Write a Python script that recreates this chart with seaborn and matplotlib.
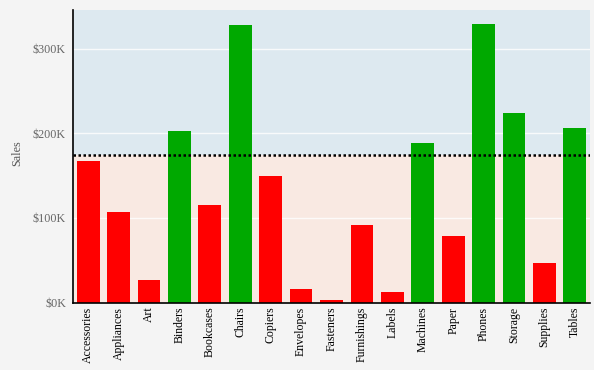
import matplotlib
matplotlib.use("Agg")
import matplotlib.pyplot as plt
import seaborn as sns
import pandas as pd
from matplotlib.ticker import FuncFormatter

sub_categories = ["Accessories", "Appliances", "Art", "Binders", "Bookcases", "Chairs",
                  "Copiers", "Envelopes", "Fasteners", "Furnishings", "Labels", "Machines",
                  "Paper", "Phones", "Storage", "Supplies", "Tables"]
sales = [167380, 107532, 27119, 203413, 114880, 328449, 149528, 16476, 3024,
         91705, 12486, 189239, 78479, 330007, 223844, 46674, 206966]
threshold = 175000
y_ticks = [0, 100000, 200000, 300000]

df = pd.DataFrame({"Sub-Category": sub_categories, "Sales": sales})
df["above"] = df["Sales"] > threshold

sns.set_theme(style="white")
plt.rcParams["font.family"] = ["Liberation Serif", "DejaVu Serif"]

fig = plt.figure(figsize=(5.94, 3.70), dpi=100, facecolor="#f4f4f4")
ax = fig.add_axes([73 / 594, (370 - 302.5) / 370, 517 / 594, 292.5 / 370])
ax.set_facecolor("none")

ymax = 346000
# shaded bands above / below the threshold
ax.axhspan(threshold, ymax, color="#dde9f0", zorder=0, lw=0)
ax.axhspan(0, threshold, color="#f9e9e2", zorder=0, lw=0)
for t in y_ticks[1:]:
    ax.axhline(t, color="white", lw=1, alpha=0.8, zorder=0.5)

sns.barplot(data=df, x="Sub-Category", y="Sales", hue="above",
            palette={True: "#00a900", False: "#ff0000"}, dodge=False,
            width=0.75, saturation=1, legend=False, linewidth=0,
            ax=ax, zorder=2)

ax.axhline(threshold, color="black", lw=1.8, ls=(0, (1, 1)), zorder=3)

ax.set_xlim(-0.5, len(sub_categories) - 0.5)
ax.set_ylim(0, ymax)
ax.set_yticks(y_ticks)
ax.yaxis.set_major_formatter(FuncFormatter(lambda v, p: f"${int(v / 1000)}K"))
ax.tick_params(axis="y", labelsize=8.7, labelcolor="#666666", length=0, pad=5)
ax.tick_params(axis="x", labelsize=8.5, labelcolor="black", length=0, pad=3,
               labelrotation=90)
ax.set_xlabel("")
ax.set_ylabel("Sales", fontsize=8.7, color="#555555")
ax.yaxis.set_label_coords(-0.097, 0.51)

for s in ["top", "right"]:
    ax.spines[s].set_visible(False)
for s in ["left", "bottom"]:
    ax.spines[s].set_color("black")
    ax.spines[s].set_linewidth(1.2)

fig.savefig("out.png", dpi=100, facecolor=fig.get_facecolor())
